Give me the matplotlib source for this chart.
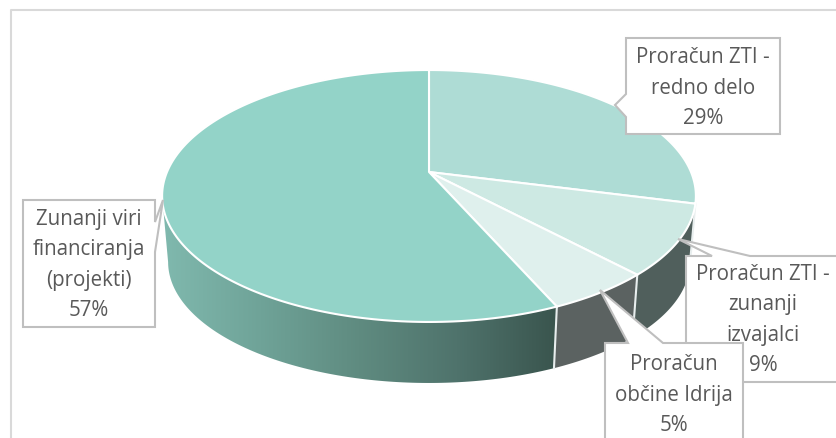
import numpy as np
import matplotlib
matplotlib.use("Agg")
import matplotlib.pyplot as plt
from matplotlib.colors import LinearSegmentedColormap
from matplotlib.patches import Polygon

# slice data, clockwise from the top
names = ["Proračun ZTI -\nredno delo", "Proračun ZTI -\nzunanji\nizvajalci",
         "Proračun\nobčine Idrija", "Zunanji viri\nfinanciranja\n(projekti)"]
values = [29.0, 9.0, 5.4, 56.6]
top_colors = ["#aedcd5", "#cde9e3", "#dff0ed", "#93d3c8"]
wall_colors = ["#4f5f5c", "#505f5c", "#5b6261", None]

plt.rcParams["font.family"] = ["Open Sans", "DejaVu Sans"]

fig = plt.figure(figsize=(8.37, 4.38), dpi=100)
ax = fig.add_axes([0, 0, 1, 1])
ax.set_xlim(0, 837)
ax.set_ylim(438, 0)
ax.axis("off")


# pie lies tilted, so the circle goes through a perspective mapping
def rim(theta):
    u, v = np.sin(theta), np.cos(theta)
    w = 1 + 0.1905 * v
    return 429 + 262 * u / w, 172 - 121.4 * v / w


def lower_rim(x, y):
    return 429 + (x - 429) * 261 / 267, 262 + (y - 196) * 121 / 126


fracs = np.array(values) / sum(values)
edges = np.concatenate([[0], np.cumsum(fracs)]) * 2 * np.pi

# outer frame, cut by the image on the right and bottom
ax.plot([11, 11, 837], [438, 10, 10], color="#d9d9d9", lw=1.5)

# side walls first
wall_cmap = LinearSegmentedColormap.from_list(
    "wall", ["#80b9ae", "#6fa398", "#5f8b80", "#4f736c", "#3a554e"])
for i in range(4):
    a = max(edges[i], np.radians(101))
    b = min(edges[i + 1], np.radians(259))
    if a >= b:
        continue
    t = np.linspace(a, b, 120)
    x, y = rim(t)
    xb, yb = lower_rim(x, y)
    pts = np.column_stack([np.r_[x, xb[::-1]], np.r_[y, yb[::-1]]])
    if wall_colors[i] is None:
        poly = Polygon(pts, closed=True, fc="none", ec="none")
        ax.add_patch(poly)
        grad = ax.imshow(np.linspace(0, 1, 256)[None, :], extent=(162, 556, 385, 190),
                         cmap=wall_cmap, aspect="auto", zorder=1)
        grad.set_clip_path(poly)
    else:
        ax.add_patch(Polygon(pts, closed=True, fc=wall_colors[i], ec="none", zorder=1))
    # white seam between neighbouring walls
    if i > 0:
        ax.plot([x[0], xb[0]], [y[0], yb[0]], color="#e8eeee", lw=1.5, zorder=2)

ax.set_xlim(0, 837)
ax.set_ylim(438, 0)

# top face
for i in range(4):
    t = np.linspace(edges[i], edges[i + 1], 200)
    x, y = rim(t)
    pts = np.column_stack([np.r_[429, x], np.r_[172, y]])
    ax.add_patch(Polygon(pts, closed=True, fc=top_colors[i], ec="white", lw=1.5,
                         joinstyle="round", zorder=3))

# callout boxes: outline with its pointer, and the text centre
boxes = [
    ([(626, 38), (780, 38), (780, 134), (626, 134), (626, 117), (615, 105), (626, 94)], (703, 88)),
    ([(686, 256), (712, 256), (678, 239), (750, 256), (845, 256), (845, 382), (686, 382)], (763, 320)),
    ([(605, 343), (628, 343), (600, 290), (663, 343), (743, 343), (743, 450), (605, 450)], (674, 395)),
    ([(23, 200), (155, 200), (155, 222), (163, 200), (155, 252), (155, 327), (23, 327)], (89, 265)),
]
order = [0, 3, 1, 2]
for i in order:
    outline, centre = boxes[i]
    ax.add_patch(Polygon(outline, closed=True, fc="white", ec="#bfbfbf", lw=1.5, zorder=4 + i * 0.1))
    ax.text(centre[0], centre[1], f"{names[i]}\n{round(values[i])}%", ha="center", va="center",
            fontsize=14.8, color="#595959", linespacing=1.58, zorder=4.05 + i * 0.1)

fig.savefig("out.png", dpi=100)
